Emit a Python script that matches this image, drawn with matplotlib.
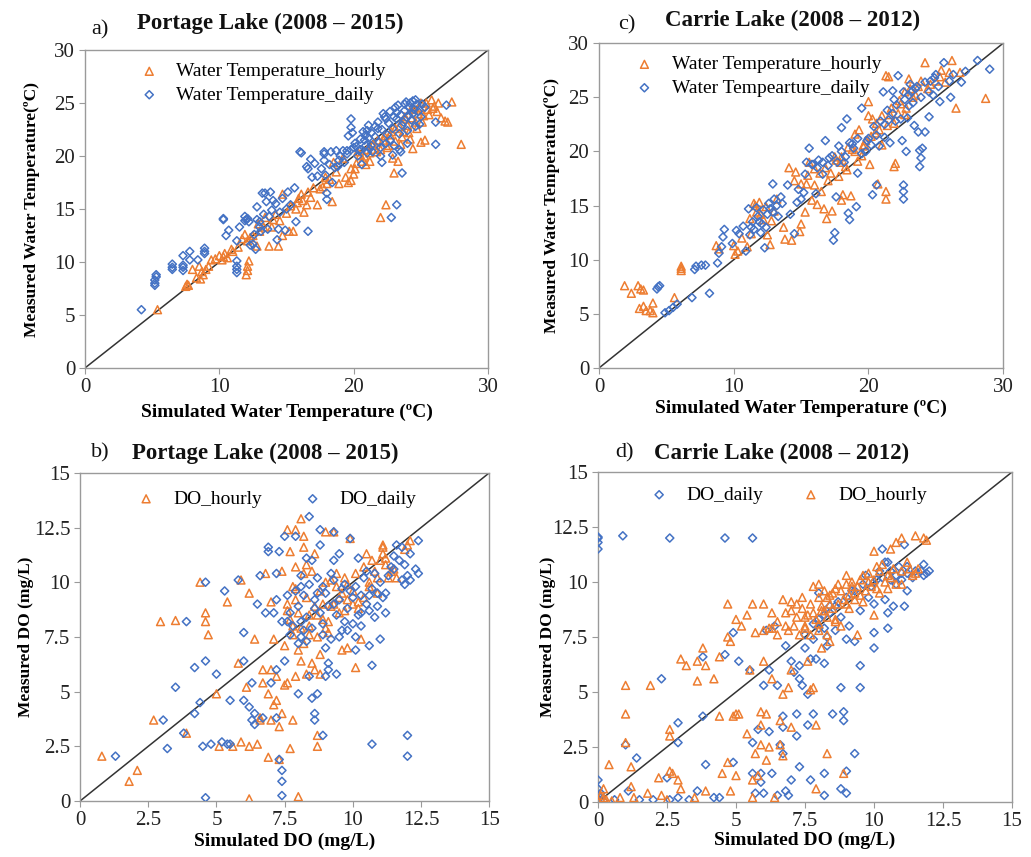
import numpy as np
import matplotlib
matplotlib.use("Agg")
import matplotlib.pyplot as plt

plt.rcParams["font.family"] = ["Liberation Serif", "DejaVu Serif"]

ORANGE = "#ED7D31"
BLUE = "#4472C4"

# ---- Panel a: Portage Lake water temperature (simulated, measured) ----
a_hourly_sim = [5.4, 7.5, 7.6, 8.0, 8.3, 8.5, 8.7, 8.8, 9.2, 9.4, 9.7, 10.0, 10.2, 10.4, 10.6, 10.9,
                11.4, 11.7, 11.9, 12.0, 12.1, 12.1, 12.2, 12.1, 12.5, 12.8, 12.9, 13.3, 13.4, 13.7, 13.9,
                14.0, 14.4, 14.5, 14.7, 14.7, 15.0, 15.2, 15.3, 15.5, 15.7, 15.9, 16.1, 16.2, 16.3, 16.5,
                16.6, 17.3, 17.7, 17.9, 18.2, 18.4, 18.5, 18.7, 18.9, 19.2, 19.4, 19.6, 19.8, 20.0, 20.1,
                20.3, 20.6, 20.8, 21.0, 21.2, 21.5, 21.7, 22.0, 22.2, 22.4, 22.5, 22.7, 22.9, 23.0, 23.1,
                23.3, 23.5, 23.7, 24.0, 24.2, 24.4, 24.6, 24.8, 25.0, 25.0, 25.3, 25.5, 25.8, 26.0, 26.2,
                26.5, 26.8, 27.0, 27.3, 28.0, 25.2, 24.3, 23.9,
                19.8, 20.2, 20.5, 20.9, 21.2, 21.4, 21.8, 22.0, 22.3, 22.6, 22.8, 23.1, 23.4, 23.6, 23.8,
                24.1, 24.3, 24.5, 24.7, 24.9, 25.1, 25.4, 25.6, 25.9, 26.3, 17.0, 17.5, 18.0, 16.8, 15.8,
                14.2, 13.0, 12.3, 11.0, 10.3, 9.0, 8.6, 7.7]
a_hourly_obs = [5.5, 7.7, 7.9, 9.3, 8.5, 9.6, 9.1, 8.8, 9.6, 10.2, 10.3, 10.6, 10.2, 10.8, 10.4, 11.2,
                11.4, 12.2, 12.6, 8.8, 9.2, 9.6, 10.1, 12.0, 12.5, 11.5, 13.6, 13.3, 14.2, 11.5, 13.3,
                14.0, 11.5, 13.9, 16.4, 12.5, 14.6, 12.9, 15.3, 12.9, 15.0, 16.0, 16.4, 15.8, 14.7, 15.4,
                16.6, 15.4, 17.1, 18.0, 17.8, 15.7, 19.4, 18.5, 17.4, 19.8, 18.0, 17.5, 17.7, 18.3, 18.8,
                20.4, 19.5, 20.0, 20.6, 19.5, 21.2, 20.4, 14.2, 21.5, 15.4, 20.8, 22.0, 19.8, 18.4, 22.6,
                19.5, 21.1, 22.3, 22.9, 21.6, 20.7, 23.2, 24.0, 21.3, 25.0, 21.5, 24.4, 25.3, 24.7, 24.2,
                23.6, 23.3, 23.2, 25.1, 21.1, 23.8, 24.5, 23.5,
                18.8, 19.3, 20.1, 19.2, 20.3, 21.0, 21.5, 20.6, 21.9, 21.0, 22.3, 21.4, 22.8, 21.8, 23.7,
                22.2, 23.6, 24.4, 22.6, 24.6, 23.2, 25.0, 23.9, 24.5, 25.0, 17.0, 16.9, 17.4, 16.1, 15.6,
                14.5, 12.9, 12.3, 11.0, 10.5, 9.3, 8.4, 7.8]
a_daily_sim = [4.2, 5.2, 5.2, 5.3, 5.3, 6.5, 6.5, 7.3, 7.3, 7.3, 7.8, 7.8, 8.4, 8.9, 8.9, 8.9, 10.3, 10.3,
               10.5, 10.7, 11.3, 11.3, 11.3, 11.3, 11.3, 11.5, 11.9, 12.0, 12.2, 12.3, 12.5, 12.7, 12.8,
               12.8, 13.0, 13.1, 13.2, 13.4, 13.5, 13.7, 13.8, 14.0, 14.3, 14.4, 14.5, 14.7, 14.9, 15.1,
               15.3, 15.6, 15.7, 16.0, 16.1, 16.5, 16.6, 16.6, 16.8, 16.9, 17.1, 17.3, 17.8, 17.8, 17.8,
               17.9, 18.0, 18.0, 18.3, 18.4, 18.6, 18.7, 18.8, 19.0, 19.2, 19.5, 19.6, 19.8, 19.8, 19.9,
               20.0, 20.2, 20.5, 20.6, 20.8, 20.9, 21.0, 21.1, 21.2, 21.3, 21.6, 21.8, 22.0, 22.1, 22.3,
               22.4, 22.5, 22.7, 22.8, 22.9, 23.0, 23.1, 23.2, 23.2, 23.4, 23.5, 23.6, 23.7, 23.8, 24.0,
               24.1, 24.2, 24.4, 24.5, 24.6, 24.7, 25.0, 25.3, 26.1, 26.1, 26.9, 24.0, 23.4,
               19.5, 19.8, 20.1, 20.3, 20.5, 20.7, 20.9, 21.1, 21.3, 21.4, 21.6, 21.8, 21.9, 22.1, 22.2,
               22.4, 22.6, 22.7, 22.9, 23.0, 23.2, 23.3, 23.5, 23.6, 23.8, 23.9, 24.1, 24.3, 24.4, 24.6,
               24.8, 24.9, 25.1, 18.9, 19.3, 18.2, 17.6, 20.4, 21.0, 22.0, 13.0, 13.3, 13.6, 12.6, 13.9,
               14.2, 15.0, 12.1, 11.9, 5.2, 6.5, 7.3]
a_daily_obs = [5.5, 7.8, 8.0, 8.6, 8.8, 9.3, 9.8, 9.5, 9.7, 10.6, 10.2, 11.0, 10.2, 11.3, 11.0, 10.8, 14.1,
               14.0, 12.5, 13.0, 12.0, 10.1, 9.6, 9.3, 9.0, 13.3, 14.3, 14.0, 13.8, 11.6, 11.7, 11.2,
               15.2, 14.0, 13.3, 12.9, 16.5, 16.5, 15.7, 14.3, 16.6, 15.8, 12.1, 13.1, 14.7, 16.0, 13.0,
               16.6, 15.4, 17.0, 13.8, 20.4, 20.3, 19.0, 18.8, 12.9, 19.7, 18.0, 19.3, 18.1, 20.4, 20.2,
               19.6, 18.2, 16.5, 15.9, 20.4, 17.5, 18.9, 20.5, 19.0, 20.0, 20.5, 20.5, 21.9, 23.5, 22.7,
               22.2, 20.8, 20.9, 20.6, 19.2, 21.5, 22.0, 22.4, 22.9, 20.7, 21.0, 21.8, 22.6, 20.0, 19.4,
               23.7, 23.5, 22.0, 21.5, 14.2, 20.1, 23.7, 24.6, 15.4, 24.1, 22.1, 20.4, 18.4, 23.2, 24.9,
               22.4, 23.8, 25.0, 25.2, 24.4, 22.8, 24.9, 23.7, 24.6, 23.2, 21.1, 24.8, 21.2, 20.6,
               20.2, 20.6, 21.2, 20.0, 21.6, 22.3, 21.0, 21.7, 22.2, 20.4, 22.8, 23.2, 21.3, 22.5, 24.0,
               21.2, 23.1, 24.2, 22.6, 21.0, 23.5, 24.8, 23.9, 22.9, 24.3, 25.1, 24.6, 23.4, 24.0, 25.3,
               24.2, 23.0, 24.9, 19.6, 19.4, 19.2, 18.8, 20.5, 20.3, 20.8, 13.8, 14.5, 13.1, 12.6, 14.9,
               15.5, 15.0, 14.1, 13.9, 8.3, 9.5, 9.2]

# ---- Panel c: Carrie Lake water temperature ----
c_hourly_sim = [1.9, 2.4, 2.9, 3.1, 3.3, 3.0, 3.3, 3.5, 3.8, 4.0, 4.0, 5.6, 6.1, 6.1, 6.1, 8.7, 8.9, 10.0,
                10.1, 10.3, 10.6, 11.0, 11.3, 11.5, 11.7, 11.9, 12.2, 12.5, 12.7, 12.8, 13.2, 13.7, 13.8,
                14.1, 14.3, 14.5, 14.6, 14.9, 15.0, 15.3, 15.4, 15.6, 15.8, 16.0, 16.2, 16.5, 16.7, 16.9,
                17.0, 17.3, 17.5, 17.8, 18.0, 18.1, 18.3, 18.5, 18.7, 19.0, 19.3, 19.5, 19.8, 20.0, 20.1,
                20.3, 20.5, 20.7, 20.8, 21.0, 21.3, 21.3, 21.3, 21.5, 21.7, 21.9, 22.0, 22.2, 22.4, 22.7,
                23.0, 23.3, 23.7, 24.2, 24.4, 25.0, 25.4, 25.7, 26.0, 26.2, 26.5, 26.8, 28.7, 22.8, 19.6,
                17.9, 16.4,
                11.2, 11.6, 12.0, 12.4, 13.0, 15.0, 15.5, 16.0, 16.8, 17.2, 17.6, 18.0, 18.4, 18.8, 19.2,
                19.7, 20.2, 20.6, 21.0, 21.4, 21.6, 21.9, 22.3, 22.7, 23.1, 23.5, 23.9, 24.6, 25.3, 20.0,
                19.0]
c_hourly_obs = [7.6, 6.9, 7.6, 7.3, 7.2, 5.5, 5.7, 5.3, 5.3, 5.1, 6.0, 6.5, 9.2, 9.4, 9.0, 11.3, 11.0, 11.3,
                10.5, 10.8, 12.0, 11.2, 12.4, 15.2, 14.4, 15.3, 13.7, 12.3, 11.4, 13.6, 15.6, 13.0, 11.9,
                18.5, 11.8, 17.3, 18.1, 12.6, 13.3, 14.4, 17.0, 19.0, 15.5, 18.4, 15.1, 16.3, 14.7, 13.8,
                17.3, 14.5, 19.5, 17.7, 15.5, 16.0, 18.6, 20.4, 15.9, 20.0, 22.0, 19.6, 21.0, 24.6, 18.8,
                23.0, 21.7, 17.0, 22.0, 23.3, 27.0, 16.3, 15.6, 26.9, 24.0, 18.6, 18.9, 23.5, 24.4, 25.5,
                26.7, 25.0, 26.0, 28.2, 25.8, 26.5, 27.5, 26.4, 27.3, 28.4, 24.0, 27.3, 24.9, 24.0, 20.5,
                19.0, 18.0,
                13.8, 15.0, 14.2, 14.9, 14.5, 17.0, 17.8, 16.9, 18.5, 18.0, 19.2, 19.5, 18.3, 20.2, 19.1,
                20.6, 21.4, 22.6, 20.6, 22.4, 23.4, 22.6, 24.7, 23.4, 25.8, 25.2, 26.5, 26.2, 26.9, 23.3,
                21.6]
c_daily_sim = [4.3, 4.4, 4.5, 4.9, 5.2, 5.5, 5.8, 6.9, 7.1, 7.2, 7.6, 7.9, 8.2, 8.8, 8.9, 9.1, 9.2, 9.3,
               9.9, 10.2, 10.4, 10.7, 10.9, 11.1, 11.3, 11.5, 11.7, 11.9, 12.1, 12.3, 12.5, 12.7, 12.9,
               13.0, 13.3, 13.6, 14.0, 14.2, 14.5, 14.7, 15.0, 15.2, 15.4, 15.6, 15.9, 16.1, 16.3, 16.6,
               16.8, 17.1, 17.4, 17.5, 17.6, 17.8, 18.0, 18.2, 18.4, 18.5, 18.6, 18.8, 19.1, 19.2, 19.5,
               19.8, 20.0, 20.3, 20.6, 20.8, 21.1, 21.2, 21.4, 21.6, 21.8, 22.0, 22.2, 22.5, 22.6, 22.6,
               22.6, 22.8, 23.0, 23.2, 23.4, 23.7, 23.8, 23.8, 23.9, 24.0, 24.2, 24.5, 24.6, 24.8, 25.0,
               25.3, 25.6, 26.0, 26.1, 26.3, 26.9, 27.2, 28.1, 29.0, 23.5, 22.9, 20.4,
               11.4, 11.8, 12.2, 12.4, 12.6, 12.9, 13.2, 13.5, 14.8, 15.3, 15.8, 16.2, 16.6, 17.0, 17.3,
               17.7, 18.0, 18.3, 18.6, 18.9, 19.2, 19.5, 19.9, 20.2, 20.6, 20.9, 21.2, 21.5, 21.8, 22.1,
               22.4, 22.7, 23.0, 23.3, 23.6, 23.9, 24.2, 24.5, 24.9, 25.2, 22.6, 23.1, 21.9, 12.0, 11.2]
c_daily_obs = [7.3, 7.5, 7.6, 5.1, 5.3, 5.6, 5.9, 6.5, 9.1, 9.4, 9.5, 9.5, 6.9, 9.7, 10.6, 11.2, 12.1, 12.8,
               11.5, 12.7, 12.4, 13.1, 10.8, 14.7, 13.0, 12.8, 14.8, 13.5, 13.3, 11.1, 14.2, 14.7, 17.0,
               15.6, 14.0, 15.2, 16.9, 14.2, 12.4, 15.3, 15.6, 16.2, 19.0, 20.3, 18.8, 16.1, 19.2, 17.9,
               21.0, 19.4, 11.8, 12.5, 15.8, 20.5, 22.2, 19.0, 23.0, 14.3, 13.7, 20.7, 14.9, 18.0, 24.0,
               20.0, 21.2, 16.0, 16.9, 20.5, 25.5, 22.5, 23.8, 20.8, 25.6, 22.8, 27.0, 21.0, 15.6, 16.3,
               16.9, 20.0, 24.2, 25.5, 22.4, 21.8, 20.1, 18.6, 19.4, 20.3, 21.8, 23.2, 26.5, 25.2, 27.1,
               24.6, 28.2, 26.5, 25.0, 27.1, 26.4, 27.4, 28.4, 27.6, 25.8, 23.1, 22.3,
               13.5, 14.0, 14.6, 13.0, 15.2, 14.4, 15.0, 15.8, 16.5, 17.9, 18.8, 18.5, 19.0, 18.7, 19.6,
               19.0, 20.0, 19.5, 20.8, 20.3, 21.2, 19.8, 21.0, 20.6, 21.5, 22.8, 21.3, 22.9, 23.5, 24.3,
               23.0, 24.8, 25.2, 24.5, 26.0, 25.0, 26.4, 25.5, 26.8, 26.0, 25.5, 26.2, 24.8, 12.5, 12.3]

# ---- Panel b: Portage Lake DO ----
b_hourly_sim = [0.8, 1.8, 2.1, 2.7, 2.95, 3.5, 3.9, 4.4, 4.6, 4.6, 4.7, 5.0, 5.1, 5.4, 5.6, 5.8, 5.9, 5.9,
                6.1, 6.2, 6.2, 6.2, 6.4, 6.5, 6.6, 6.6, 6.7, 6.7, 6.8, 6.9, 6.9, 7.0, 7.0, 7.0, 7.1, 7.1,
                7.2, 7.2, 7.3, 7.3, 7.4, 7.4, 7.5, 7.5, 7.6, 7.6, 7.7, 7.7, 7.8, 7.8, 7.8, 7.9, 7.9, 8.0,
                8.0, 8.1, 8.1, 8.2, 8.2, 8.3, 8.3, 8.4, 8.5, 8.5, 8.6, 8.6, 8.7, 8.7, 8.8, 8.8, 8.9, 9.0,
                9.1, 9.2, 9.3, 9.4, 9.5, 9.6, 9.7, 9.8, 9.9, 10.0, 10.1, 10.2, 10.3, 10.4, 10.5, 10.6,
                10.8, 10.9, 11.1, 11.1, 11.2, 11.4, 11.6, 11.9, 12.1, 12.0, 8.4, 9.0, 9.6, 7.6, 7.9, 8.2,
                8.7, 9.3,
                7.6, 7.7, 7.8, 7.9, 8.0, 8.1, 8.3, 8.4, 8.6, 8.7, 8.8, 8.9, 9.0, 9.1, 9.2, 9.4, 9.5, 9.7,
                9.8, 10.0, 10.1, 10.2, 10.4, 10.6, 10.7, 10.9, 11.0, 11.1, 11.2, 11.3, 11.5, 9.8, 8.2, 7.9]
b_hourly_obs = [2.05, 0.9, 1.4, 3.7, 8.2, 8.25, 3.1, 10.0, 8.6, 8.2, 7.6, 4.9, 2.5, 9.1, 2.5, 6.3, 10.1,
                2.7, 5.2, 9.5, 2.5, 0.1, 7.4, 2.6, 3.7, 3.8, 5.4, 6.0, 10.4, 2.0, 4.9, 3.7, 9.1, 6.0, 7.4,
                4.4, 5.7, 4.6, 3.4, 1.9, 4.0, 10.5, 5.3, 7.1, 12.4, 5.4, 11.4, 2.4, 3.7, 9.8, 8.0, 5.7,
                12.4, 6.9, 0.2, 12.9, 6.4, 12.1, 11.6, 10.8, 5.8, 8.5, 10.5, 6.3, 6.0, 11.3, 3.0, 2.5,
                5.8, 6.7, 9.0, 12.3, 8.2, 10.1, 12.3, 10.4, 9.3, 6.9, 8.7, 7.0, 12.0, 9.0, 6.1, 8.8, 7.4,
                9.3, 11.3, 10.0, 10.5, 9.5, 11.7, 11.3, 10.8, 10.5, 10.2, 11.5, 11.9, 11.7, 7.6, 7.9, 9.5,
                8.7, 9.2, 7.2, 8.5, 9.0,
                9.0, 8.3, 7.6, 9.7, 8.6, 7.9, 9.3, 8.0, 8.9, 7.5, 9.6, 8.3, 10.0, 7.7, 8.9, 9.8, 8.6, 10.2,
                9.2, 9.6, 10.4, 9.1, 10.7, 9.8, 11.0, 10.2, 11.0, 11.6, 11.1, 10.2, 10.6, 9.9, 10.4, 10.7]
b_daily_sim = [1.3, 3.05, 3.2, 3.5, 3.8, 3.9, 4.2, 4.2, 4.4, 4.5, 4.6, 4.6, 4.6, 4.8, 5.0, 5.2, 5.3, 5.4,
               5.5, 5.5, 5.8, 6.0, 6.0, 6.0, 6.2, 6.3, 6.3, 6.4, 6.4, 6.5, 6.6, 6.7, 6.8, 6.9, 6.9, 7.0,
               7.1, 7.2, 7.2, 7.2, 7.2, 7.3, 7.3, 7.4, 7.4, 7.4, 7.4, 7.5, 7.5, 7.6, 7.7, 7.8, 7.9, 8.0,
               8.0, 8.1, 8.1, 8.2, 8.3, 8.4, 8.4, 8.5, 8.6, 8.6, 8.7, 8.8, 8.8, 8.9, 8.9, 9.0, 9.0, 9.1,
               9.1, 9.2, 9.3, 9.4, 9.5, 9.5, 9.6, 9.7, 9.8, 9.9, 10.0, 10.1, 10.1, 10.2, 10.3, 10.5,
               10.6, 10.6, 10.7, 10.7, 10.8, 11.0, 11.2, 11.2, 11.4, 11.6, 11.8, 11.9, 12.0, 12.0, 12.0,
               12.1, 12.4, 12.4, 12.3, 11.8, 11.5, 10.9, 10.3, 9.3, 8.6, 8.1, 8.7,
               7.7, 7.9, 8.0, 8.2, 8.3, 8.4, 8.5, 8.6, 8.7, 8.8, 8.9, 9.0, 9.1, 9.2, 9.3, 9.4, 9.5, 9.6,
               9.7, 9.8, 9.9, 10.0, 10.1, 10.2, 10.3, 10.4, 10.5, 10.6, 10.7, 10.8, 10.9, 11.0, 11.1,
               11.3, 11.5, 11.7, 11.9, 12.1, 8.5, 8.3, 8.9, 9.3, 7.6, 8.1]
b_daily_obs = [2.05, 3.7, 2.4, 5.2, 3.1, 8.2, 6.1, 4.0, 4.5, 2.5, 10.0, 6.4, 0.15, 2.6, 5.8, 2.7, 9.6, 2.6,
               2.6, 4.6, 10.1, 7.7, 6.4, 4.6, 4.3, 3.7, 5.4, 4.0, 3.5, 9.0, 10.3, 3.8, 8.6, 11.6, 11.4,
               5.4, 8.6, 9.2, 10.4, 3.8, 6.0, 11.4, 1.9, 8.2, 1.4, 0.9, 0.25, 6.4, 12.1, 9.4, 7.6, 8.0,
               12.1, 4.9, 7.2, 10.3, 9.8, 7.8, 11.1, 13.0, 5.7, 4.7, 3.7, 4.0, 4.9, 12.4, 11.7, 3.0, 9.8,
               5.7, 7.0, 6.0, 6.3, 10.4, 12.3, 5.8, 7.5, 11.3, 9.7, 8.2, 7.8, 12.0, 9.3, 6.9, 7.5, 11.1,
               8.6, 10.5, 7.1, 9.4, 6.2, 2.6, 8.4, 7.4, 8.6, 9.5, 10.7, 11.7, 10.1, 9.9, 3.0, 2.05, 10.3,
               11.3, 11.9, 10.4, 10.6, 11.6, 11.2, 9.5, 8.0, 9.0, 8.8, 8.2, 9.5,
               8.6, 9.6, 8.9, 9.4, 8.4, 9.9, 7.9, 9.2, 10.2, 8.6, 7.6, 9.5, 8.9, 7.4, 10.1, 8.5, 9.2, 7.8,
               9.9, 8.8, 9.6, 8.1, 9.8, 8.5, 9.4, 10.2, 9.0, 8.7, 9.7, 10.4, 8.9, 10.0, 9.3, 10.3, 10.6,
               11.0, 10.8, 10.1, 11.0, 7.3, 8.1, 11.0, 8.2, 7.5]

# ---- Panel d: Carrie Lake DO ----
d_daily_sim = [0.0, 0.0, 0.0, 0.0, 0.9, 2.6, 4.6, 5.6, 0.0, 0.0, 0.0, 0.0, 0.1, 0.2, 0.6, 1.0, 1.1, 1.4,
               1.5, 2.0, 2.3, 2.5, 2.6, 2.9, 2.9, 2.9, 3.3, 3.6, 3.8, 3.8, 3.9, 4.2, 4.4, 4.6, 4.9, 4.9,
               5.1, 5.5, 5.6, 5.6, 5.7, 5.8, 5.9, 5.9, 6.0, 6.0, 6.1, 6.2, 6.2, 6.3, 6.4, 6.5, 6.5, 6.6,
               6.7, 6.7, 6.7, 6.8, 6.8, 6.9, 7.0, 7.0, 7.1, 7.2, 7.2, 7.3, 7.3, 7.3, 7.4, 7.5, 7.6, 7.6,
               7.7, 7.7, 7.8, 7.8, 7.9, 8.0, 8.0, 8.2, 8.2, 8.2, 8.3, 8.4, 8.5, 8.6, 8.7, 8.8, 8.8, 8.9,
               8.9, 9.0, 9.0, 9.0, 9.1, 9.2, 9.3, 9.3, 9.5, 9.5, 9.5, 9.7, 9.9, 10.0, 10.0, 10.0, 10.2,
               10.3, 10.4, 10.4, 10.5, 10.5, 10.6, 10.7, 10.8, 11.0, 11.1, 11.2, 11.2, 11.1, 11.4, 11.8,
               11.8, 12.0, 11.9, 10.1, 8.2,
               8.0, 8.2, 8.4, 8.6, 8.8, 9.0, 9.3, 9.6, 10.0, 10.3, 10.6, 10.8, 11.0, 11.2, 10.5, 10.9,
               8.3, 7.8, 7.5, 9.8, 11.5, 11.7]
d_daily_obs = [12.0, 11.8, 11.5, 12.05, 12.1, 12.0, 12.0, 12.0, 1.0, 0.6, 0.3, 0.1, 0.4, 0.05, 0.1, 2.6,
               0.5, 2.0, 0.1, 0.1, 5.6, 1.1, 0.1, 3.6, 2.7, 0.2, 0.1, 0.5, 3.9, 6.6, 1.7, 0.2, 0.2, 6.7,
               7.7, 1.8, 6.4, 6.0, 2.7, 1.3, 0.4, 3.3, 0.9, 1.3, 5.3, 0.4, 7.8, 6.0, 3.2, 1.3, 8.0, 5.3,
               0.3, 2.6, 3.9, 3.4, 2.2, 7.1, 0.5, 0.3, 6.4, 1.0, 5.9, 4.0, 3.0, 6.2, 5.6, 1.6, 5.3, 7.6,
               4.9, 3.5, 1.0, 6.5, 8.1, 4.0, 6.5, 9.5, 7.9, 6.3, 1.3, 0.3, 7.5, 8.9, 4.0, 7.8, 9.1, 5.2,
               0.6, 4.1, 3.7, 7.4, 0.4, 1.4, 8.0, 9.6, 2.2, 7.3, 6.2, 5.2, 8.7, 10.3, 9.8, 7.0, 7.7, 9.0,
               10.5, 11.5, 10.9, 9.2, 8.6, 7.9, 10.1, 8.9, 9.9, 10.4, 11.7, 10.7, 9.6, 8.9, 10.2, 10.3,
               10.8, 10.5, 10.4, 10.1, 8.5,
               8.3, 7.9, 8.6, 8.9, 8.4, 9.3, 9.6, 9.9, 10.0, 10.2, 10.5, 10.3, 10.1, 10.4, 10.9, 10.7,
               7.1, 7.4, 7.0, 9.3, 10.5, 10.5]
d_hourly_sim = [0.0, 0.1, 0.2, 0.2, 0.3, 0.4, 0.5, 0.8, 1.0, 1.0, 1.0, 1.2, 1.2, 1.3, 1.9, 1.8, 2.2, 2.3,
                2.5, 2.6, 2.6, 2.6, 2.7, 2.9, 3.0, 3.0, 3.2, 3.5, 3.6, 3.6, 3.8, 3.9, 3.9, 4.2, 4.4, 4.4,
                4.5, 4.7, 4.7, 4.7, 4.8, 4.8, 4.9, 5.0, 5.0, 5.0, 5.1, 5.2, 5.4, 5.4, 5.5, 5.6, 5.6, 5.6,
                5.7, 5.7, 5.8, 5.9, 5.9, 5.9, 6.0, 6.0, 6.1, 6.1, 6.2, 6.2, 6.3, 6.3, 6.4, 6.5, 6.5, 6.6,
                6.6, 6.7, 6.7, 6.7, 6.8, 6.9, 6.9, 7.0, 7.0, 7.0, 7.1, 7.2, 7.3, 7.4, 7.5, 7.6, 7.7, 7.7,
                7.8, 7.8, 7.9, 7.9, 8.0, 8.1, 8.2, 8.3, 8.4, 8.5, 8.6, 8.7, 8.8, 8.9, 9.0, 9.0, 9.1, 9.3,
                9.4, 9.5, 9.6, 9.8, 10.0, 10.0, 10.1, 10.2, 10.3, 10.5, 10.6, 10.8, 11.0, 11.0, 11.2,
                11.5, 11.6, 11.8, 11.9, 11.4, 8.1, 8.3, 8.0, 7.8, 9.2, 8.4, 7.5,
                7.2, 7.4, 7.6, 7.7, 7.9, 8.0, 8.1, 8.2, 8.3, 8.4, 8.5, 8.6, 8.7, 8.8, 8.9, 9.0, 9.1, 9.2,
                9.3, 9.4, 9.5, 9.6, 9.7, 9.8, 9.9, 10.0, 10.1, 10.2, 10.4, 10.5, 10.6, 10.7, 10.8, 11.0,
                11.3, 11.5, 7.0, 6.8, 7.5, 8.0, 8.3, 8.6, 6.3, 6.0]
d_hourly_obs = [0.1, 0.3, 0.2, 0.6, 0.1, 1.7, 0.05, 0.2, 5.3, 4.0, 2.7, 1.6, 0.7, 0.2, 5.3, 0.4, 1.1, 0.3,
                0.1, 3.3, 1.4, 3.0, 1.3, 1.0, 6.5, 0.6, 6.2, 0.2, 6.4, 5.5, 7.0, 6.2, 0.5, 5.6, 6.6, 3.9,
                1.3, 9.0, 7.5, 1.8, 7.3, 0.5, 3.9, 8.3, 4.0, 1.2, 4.0, 8.0, 8.5, 3.1, 6.0, 9.0, 1.0, 0.2,
                7.7, 2.2, 1.2, 4.1, 3.5, 2.6, 9.0, 6.4, 4.0, 1.9, 7.9, 2.5, 8.6, 5.6, 0.2, 7.6, 8.2, 2.6,
                3.7, 2.1, 9.2, 4.9, 8.6, 7.8, 5.2, 9.1, 6.0, 3.4, 8.0, 9.0, 7.6, 9.3, 8.4, 6.4, 5.1, 7.6,
                9.8, 5.2, 3.5, 0.6, 9.9, 7.0, 8.7, 2.2, 7.3, 9.5, 8.2, 9.9, 8.0, 1.3, 10.3, 9.0, 8.8, 9.5,
                7.6, 10.1, 9.1, 10.0, 8.5, 11.4, 10.7, 9.5, 10.8, 10.3, 11.5, 11.8, 12.0, 9.9, 10.9, 12.1,
                10.6, 12.0, 11.9, 10.3, 8.9, 9.3, 8.1, 8.6, 9.8, 9.0, 7.9,
                8.4, 8.8, 8.5, 9.0, 8.3, 9.3, 8.7, 9.6, 8.4, 9.4, 8.8, 9.7, 9.0, 9.6, 9.2, 9.9, 9.4, 10.0,
                9.2, 9.8, 9.4, 10.3, 9.6, 10.4, 9.8, 10.1, 9.7, 10.5, 10.0, 9.7, 10.2, 10.6, 9.9, 10.5,
                10.6, 10.4, 8.7, 8.0, 8.0, 7.8, 7.6, 8.3, 7.9, 7.8]

TEMP_TICKS = [0, 10, 20, 30]
TEMP_YTICKS = [0, 5, 10, 15, 20, 25, 30]
DO_TICKS = [0, 2.5, 5, 7.5, 10, 12.5, 15]
DO_TICKLABELS = ["0", "2.5", "5", "7.5", "10", "12.5", "15"]


def style_axes(ax, lim, xticks, yticks, xlabels=None, ylabels=None):
    ax.set_xlim(0, lim)
    ax.set_ylim(0, lim)
    ax.set_xticks(xticks)
    ax.set_yticks(yticks)
    if xlabels is not None:
        ax.set_xticklabels(xlabels)
        ax.set_yticklabels(ylabels)
    ax.plot([0, lim], [0, lim], color="#333333", lw=1.1, zorder=1)
    for s in ax.spines.values():
        s.set_color("#9a9a9a")
        s.set_linewidth(1.0)
    ax.tick_params(direction="out", length=4, color="#9a9a9a", labelsize=15,
                   labelcolor="#222222", pad=3)


def tri(ax, x, y, label):
    return ax.scatter(x, y, marker="^", s=32, facecolors="none", edgecolors=ORANGE,
                      linewidths=1.1, label=label, zorder=3)


def dia(ax, x, y, label):
    return ax.scatter(x, y, marker="D", s=17, facecolors="none", edgecolors=BLUE,
                      linewidths=1.1, label=label, zorder=3)


leg_kw = dict(frameon=False, fontsize=14, handlelength=1.0, handletextpad=0.9,
              borderpad=0.4, labelspacing=0.3)
xl_kw = dict(fontsize=14, fontweight="bold")
yl_kw = dict(fontsize=12.5, fontweight="bold")

fig = plt.figure(figsize=(10.31, 8.57), dpi=100)

# a)
ax_a = fig.add_axes([0.0824, 0.5706, 0.391, 0.371])
style_axes(ax_a, 30, TEMP_TICKS, TEMP_YTICKS)
h1 = tri(ax_a, a_hourly_sim, a_hourly_obs, "Water Temperature_hourly")
h2 = dia(ax_a, a_daily_sim, a_daily_obs, "Water Temperature_daily")
ax_a.legend(handles=[h1, h2], loc="upper left", bbox_to_anchor=(0.092, 1.015), **leg_kw)
ax_a.set_xlabel("Simulated Water Temperature (\u00baC)", labelpad=5, **xl_kw)
ax_a.set_ylabel("Measured Water Temperature(\u00baC)", labelpad=10, **yl_kw)

# c)
ax_c = fig.add_axes([0.581, 0.5706, 0.392, 0.379])
style_axes(ax_c, 30, TEMP_TICKS, TEMP_YTICKS)
h1 = tri(ax_c, c_hourly_sim, c_hourly_obs, "Water Temperature_hourly")
h2 = dia(ax_c, c_daily_sim, c_daily_obs, "Water Tempearture_daily")
ax_c.legend(handles=[h1, h2], loc="upper left", bbox_to_anchor=(0.045, 1.015), **leg_kw)
ax_c.set_xlabel("Simulated Water Temperature (\u00baC)", labelpad=2, **xl_kw)
ax_c.set_ylabel("Measured Water Temperature(\u00baC)", labelpad=6, **yl_kw)

# b)
ax_b = fig.add_axes([0.0776, 0.0653, 0.397, 0.383])
style_axes(ax_b, 15, DO_TICKS, DO_TICKS, DO_TICKLABELS, DO_TICKLABELS)
h1 = tri(ax_b, b_hourly_sim, b_hourly_obs, "DO_hourly")
h2 = dia(ax_b, b_daily_sim, b_daily_obs, "DO_daily")
ax_b.legend(handles=[h1, h2], loc="upper left", bbox_to_anchor=(0.095, 1.0), ncol=2,
            columnspacing=2.1, **leg_kw)
ax_b.set_xlabel("Simulated DO (mg/L)", labelpad=2, **xl_kw)
ax_b.set_ylabel("Measured DO (mg/L)", labelpad=0, **yl_kw)

# d)
ax_d = fig.add_axes([0.580, 0.0642, 0.4016, 0.385])
style_axes(ax_d, 15, DO_TICKS, DO_TICKS, DO_TICKLABELS, DO_TICKLABELS)
h2 = dia(ax_d, d_daily_sim, d_daily_obs, "DO_daily")
h1 = tri(ax_d, d_hourly_sim, d_hourly_obs, "DO_hourly")
ax_d.legend(handles=[h2, h1], loc="upper left", bbox_to_anchor=(0.082, 1.01), ncol=2,
            columnspacing=1.95, **leg_kw)
ax_d.set_xlabel("Simulated DO (mg/L)", labelpad=1, **xl_kw)
ax_d.set_ylabel("Measured DO (mg/L)", labelpad=-3, **yl_kw)

# panel titles
title_kw = dict(fontsize=16.5, fontweight="bold", ha="center", va="center", color="#111111")
tag_kw = dict(fontsize=16, ha="center", va="center", color="#111111")
fig.text(100 / 1031, 1 - 30 / 857, "a)", **tag_kw)
fig.text(270 / 1031, 1 - 23 / 857, "Portage Lake (2008 \u2013 2015)", **title_kw)
fig.text(627 / 1031, 1 - 25 / 857, "c)", **tag_kw)
fig.text(793 / 1031, 1 - 20 / 857, "Carrie Lake (2008 \u2013 2012)", **title_kw)
fig.text(100 / 1031, 1 - 453 / 857, "b)", **tag_kw)
fig.text(265 / 1031, 1 - 453 / 857, "Portage Lake (2008 \u2013 2015)", **title_kw)
fig.text(625 / 1031, 1 - 453 / 857, "d)", **tag_kw)
fig.text(782 / 1031, 1 - 453 / 857, "Carrie Lake (2008 \u2013 2012)", **title_kw)

fig.savefig("out.png", dpi=100)
